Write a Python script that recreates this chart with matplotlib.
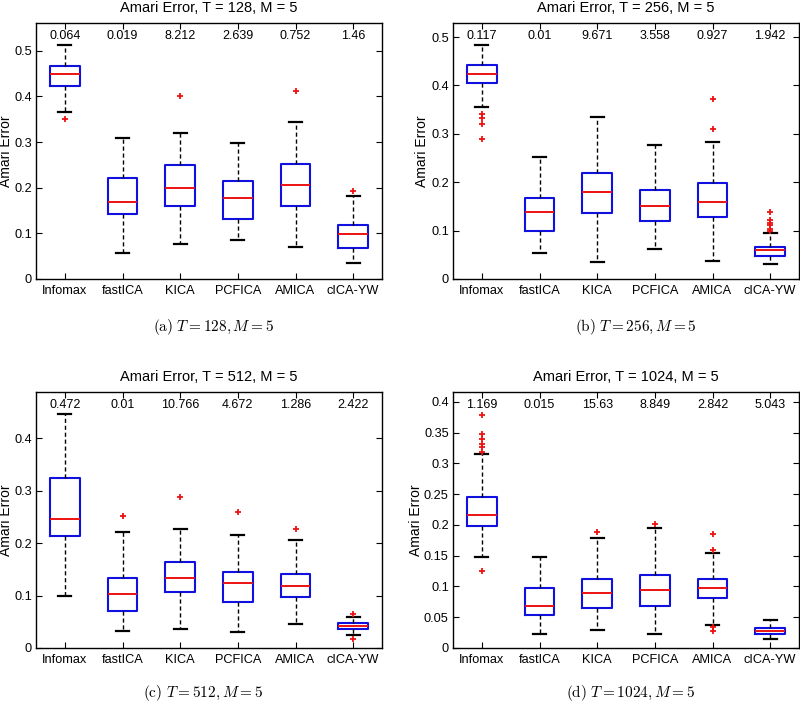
import matplotlib
matplotlib.use("Agg")
import matplotlib.pyplot as plt
from matplotlib.ticker import FuncFormatter

categories = ["Infomax", "fastICA", "KICA", "PCFICA", "AMICA", "cICA-YW"]

# Panel (a) T = 128
a_whislo = [0.365, 0.056, 0.077, 0.085, 0.071, 0.035]
a_q1     = [0.423, 0.143, 0.159, 0.131, 0.161, 0.069]
a_med    = [0.450, 0.169, 0.199, 0.177, 0.207, 0.098]
a_q3     = [0.467, 0.222, 0.250, 0.215, 0.251, 0.118]
a_whishi = [0.512, 0.308, 0.320, 0.297, 0.345, 0.182]
a_fliers = [[0.351], [], [0.400], [], [0.411], [0.193]]
a_nums   = ["0.064", "0.019", "8.212", "2.639", "0.752", "1.46"]

# Panel (b) T = 256
b_whislo = [0.356, 0.054, 0.036, 0.061, 0.037, 0.031]
b_q1     = [0.405, 0.100, 0.137, 0.119, 0.128, 0.048]
b_med    = [0.424, 0.139, 0.180, 0.150, 0.159, 0.059]
b_q3     = [0.442, 0.167, 0.219, 0.183, 0.199, 0.067]
b_whishi = [0.483, 0.253, 0.334, 0.276, 0.284, 0.096]
b_fliers = [[0.340, 0.333, 0.320, 0.289], [], [], [], [0.372, 0.309],
            [0.138, 0.121, 0.116, 0.111, 0.104, 0.100]]
b_nums   = ["0.117", "0.01", "9.671", "3.558", "0.927", "1.942"]

# Panel (c) T = 512
c_whislo = [0.100, 0.033, 0.037, 0.030, 0.045, 0.025]
c_q1     = [0.214, 0.071, 0.107, 0.088, 0.098, 0.036]
c_med    = [0.246, 0.102, 0.133, 0.123, 0.119, 0.042]
c_q3     = [0.325, 0.134, 0.163, 0.145, 0.142, 0.047]
c_whishi = [0.446, 0.221, 0.227, 0.215, 0.205, 0.060]
c_fliers = [[], [0.251], [0.287], [0.260], [0.227], [0.065, 0.018]]
c_nums   = ["0.472", "0.01", "10.766", "4.672", "1.286", "2.422"]

# Panel (d) T = 1024
d_whislo = [0.148, 0.023, 0.030, 0.023, 0.038, 0.014]
d_q1     = [0.199, 0.054, 0.065, 0.068, 0.082, 0.022]
d_med    = [0.216, 0.069, 0.089, 0.094, 0.097, 0.028]
d_q3     = [0.245, 0.097, 0.112, 0.119, 0.112, 0.032]
d_whishi = [0.316, 0.148, 0.179, 0.195, 0.155, 0.045]
d_fliers = [[0.379, 0.348, 0.339, 0.332, 0.326, 0.319, 0.125], [], [0.188],
            [0.202], [0.186, 0.159, 0.034, 0.028], []]
d_nums   = ["1.169", "0.015", "15.63", "8.849", "2.842", "5.043"]

titles = ["Amari Error, T = 128, M = 5", "Amari Error, T = 256, M = 5",
          "Amari Error, T = 512, M = 5", "Amari Error, T = 1024, M = 5"]
captions = [r"$\mathrm{(a)}\ T = 128, M = 5$", r"$\mathrm{(b)}\ T = 256, M = 5$",
            r"$\mathrm{(c)}\ T = 512, M = 5$", r"$\mathrm{(d)}\ T = 1024, M = 5$"]

panels = [
    (a_whislo, a_q1, a_med, a_q3, a_whishi, a_fliers, a_nums),
    (b_whislo, b_q1, b_med, b_q3, b_whishi, b_fliers, b_nums),
    (c_whislo, c_q1, c_med, c_q3, c_whishi, c_fliers, c_nums),
    (d_whislo, d_q1, d_med, d_q3, d_whishi, d_fliers, d_nums),
]

plt.rcParams["font.family"] = ["Liberation Sans", "DejaVu Sans"]
plt.rcParams["mathtext.fontset"] = "cm"

W, H = 800, 703
fig = plt.figure(figsize=(W / 100, H / 100), dpi=100)

# axes boxes in pixels: left, top, right, bottom
boxes_px = [(36, 23, 382, 279), (453, 23, 799, 279),
            (36, 392, 382, 648), (453, 392, 799, 648)]
ylims = [0.561, 0.529, 0.488, 0.416]
ytick_sets = [[0, 0.1, 0.2, 0.3, 0.4, 0.5], [0, 0.1, 0.2, 0.3, 0.4, 0.5],
              [0, 0.1, 0.2, 0.3, 0.4],
              [0, 0.05, 0.1, 0.15, 0.2, 0.25, 0.3, 0.35, 0.4]]
ylabel_x_px = [13, 429, 13, 423]
caption_pos = [(213, 327), (636, 327), (203, 693), (631, 693)]

fmt = FuncFormatter(lambda v, p: "0" if abs(v) < 1e-12 else ("%g" % v))

for i, (pan, bx) in enumerate(zip(panels, boxes_px)):
    wl, q1, md, q3, wh, fl, nums = pan
    l, t, r, b = bx
    ax = fig.add_axes([l / W, 1 - b / H, (r - l) / W, (b - t) / H])
    stats = []
    for k in range(len(categories)):
        stats.append(dict(med=md[k], q1=q1[k], q3=q3[k], whislo=wl[k],
                          whishi=wh[k], fliers=fl[k], label=categories[k]))
    ax.bxp(stats, positions=range(1, 7), widths=0.52, capwidths=0.23,
           boxprops=dict(color="#1010e0", linewidth=1.5),
           medianprops=dict(color="#ee1111", linewidth=1.4),
           whiskerprops=dict(color="black", linewidth=1.0, linestyle=(0, (3, 2))),
           capprops=dict(color="black", linewidth=1.6),
           flierprops=dict(marker="+", markeredgecolor="#ee1111",
                           markersize=5, markeredgewidth=1.3, linestyle="none"))
    ax.set_xlim(0.5, 6.5)
    ax.set_ylim(0, ylims[i])
    ax.set_yticks(ytick_sets[i])
    ax.yaxis.set_major_formatter(fmt)
    ax.set_xticks(range(1, 7))
    ax.set_xticklabels(categories)
    ax.tick_params(direction="in", top=True, right=True, labelsize=9.2,
                   length=4, width=0.8, pad=4)
    ax.tick_params(axis="y", pad=3)
    for s in ax.spines.values():
        s.set_linewidth(1.0)
    ax.set_ylabel("Amari Error", fontsize=10)
    ax.yaxis.set_label_coords((ylabel_x_px[i] - l) / (r - l), 0.5)
    ax.set_title(titles[i], fontsize=10.5, pad=8)
    for k, n in enumerate(nums):
        ax.text(k + 1, 0.95, n, transform=ax.get_xaxis_transform(),
                ha="center", va="center", fontsize=9)
    cx, cy = caption_pos[i]
    fig.text(cx / W, 1 - cy / H, captions[i], ha="center", va="center",
             fontsize=11)

fig.savefig("out.png", dpi=100)
